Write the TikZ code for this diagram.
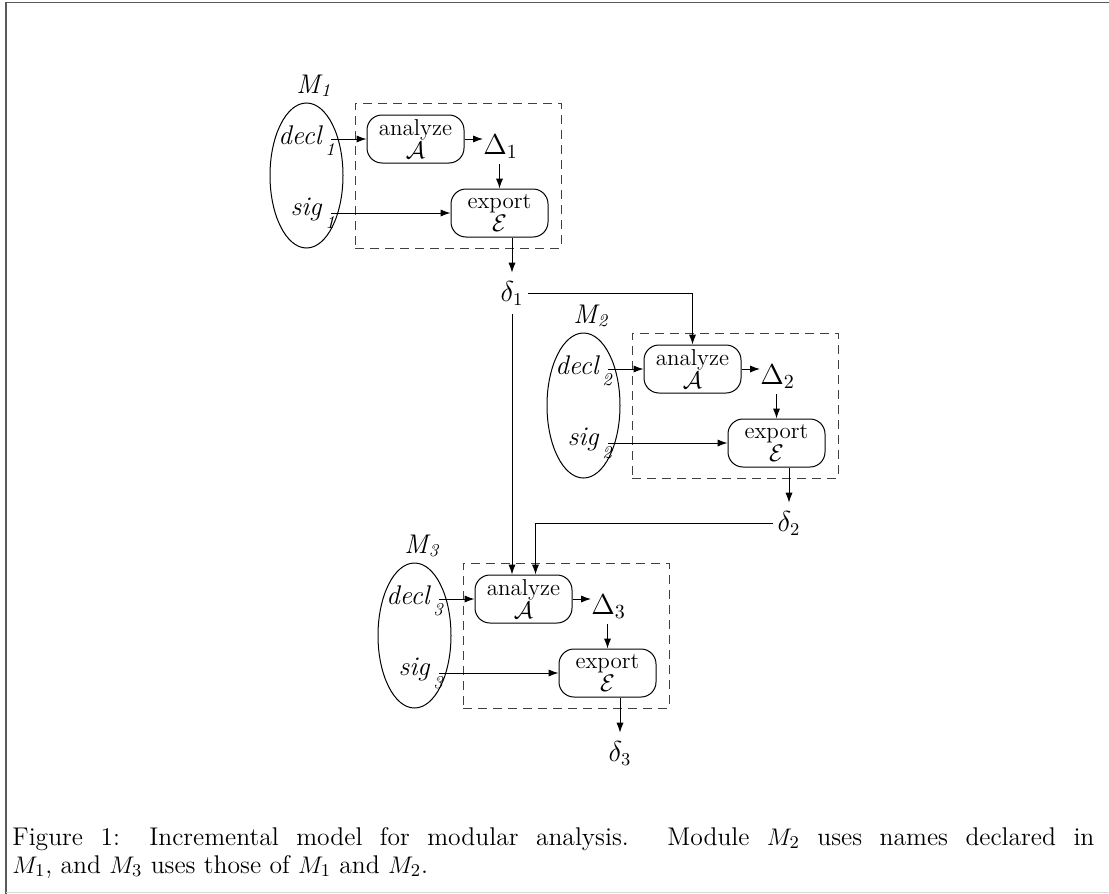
\documentclass[tikz,border=0pt]{standalone}
\usetikzlibrary{arrows.meta,shapes.geometric}
\tikzset{
  ln/.style={line width=0.5pt},
  arr/.style={ln,-{Latex[length=5pt,width=3.6pt]}},
  procbox/.style={draw,ln,rounded corners=7.5pt,minimum width=48.5pt,minimum height=24pt,inner sep=0pt,align=center,font=\fontsize{11.5}{11.5}\selectfont},
  dashbox/.style={draw=black!75,ln,dash pattern=on 4.5pt off 3pt},
  modell/.style={draw,ln,ellipse,minimum width=36.5pt,minimum height=72.5pt,inner sep=0pt},
  itl/.style={font=\fontsize{13.5}{13.5}\itshape\selectfont,inner sep=0pt},
  subl/.style={font=\fontsize{9}{9}\itshape\selectfont,inner sep=0pt},
  mathl/.style={font=\fontsize{14}{14}\selectfont,inner sep=0pt},
  outl/.style={font=\fontsize{13.5}{13.5}\selectfont,inner xsep=2pt,inner ysep=4pt},
  capl/.style={font=\fontsize{12.8}{14}\selectfont,inner sep=0pt,anchor=base west},
  modblock/.pic={
    \node[dashbox,minimum width=103pt,minimum height=72.5pt,inner sep=0pt] (-box) at (103,72.5) {};
    \node[modell] (-m) at (-48.5,72.5) {};
    \node[itl,anchor=base west] (-M) at (-59,-10) {M};
    \node[subl,anchor=base west] (-Ms) at ([yshift=-1.5pt]-M.base east) {#1};
    \node[itl,anchor=base east] (-decl) at (-33,41) {decl};
    \node[subl,anchor=base west] (-decls) at (-30,52) {#1};
    \node[itl,anchor=base east] (-sig) at (-33,112) {sig};
    \node[subl,anchor=base west] (-sigs) at (-30,125) {#1};
    \node[procbox] (-an) at (60.5,36) {analyze\\$\mathcal{A}$};
    \node[procbox] (-ex) at (144.5,110) {export\\$\mathcal{E}$};
    \node[mathl,anchor=base west] (-D) at (128,51) {$\Delta_{#1}$};
    \node[outl,anchor=base] (-d) at (157,198) {$\delta_{#1}$};
    \coordinate (-declo) at (-24,36);
    \coordinate (-sigo) at (-24,110);
    \coordinate (-Do) at (144.5,61);
    \draw[arr] (-declo) -- (-an.west);
    \draw[arr] (-sigo) -- (-ex.west);
    \draw[arr] (-an.east) -- (-an.east -| -D.west);
    \draw[arr] (-Do) -- (-ex.north);
    \draw[arr] (-ex.south -| -d.north) -- (-d.north);
  }
}
\begin{document}
\begin{tikzpicture}[x=0.5pt,y=-0.5pt]
\useasboundingbox (0,0) rectangle (1109,894);
\draw[line width=0.8pt,black!65] (6,894) -- (6,2.5) -- (1109,2.5);
\draw[line width=0.6pt,black!15] (6,892.5) -- (1109,892.5);

\pic (b1) at (355,103) {modblock=1};
\pic (b2) at (632,333) {modblock=2};
\pic (b3) at (463,563) {modblock=3};

\draw[arr] (b1-d.east) -| (b2-an.north);
\draw[arr] (b1-d.south) -- (b1-d.south |- b3-an.north);
\draw[arr] (b2-d.west) -| ([xshift=6pt]b3-an.north);

\node[capl] (cap1) at (12,845) {\makebox[541pt][s]{Figure 1: Incremental model for modular analysis. Module $M_2$ uses names declared in}};
\node[capl] (cap2) at (12,873) {$M_1$, and $M_3$ uses those of $M_1$ and $M_2$.};
\end{tikzpicture}
\end{document}
